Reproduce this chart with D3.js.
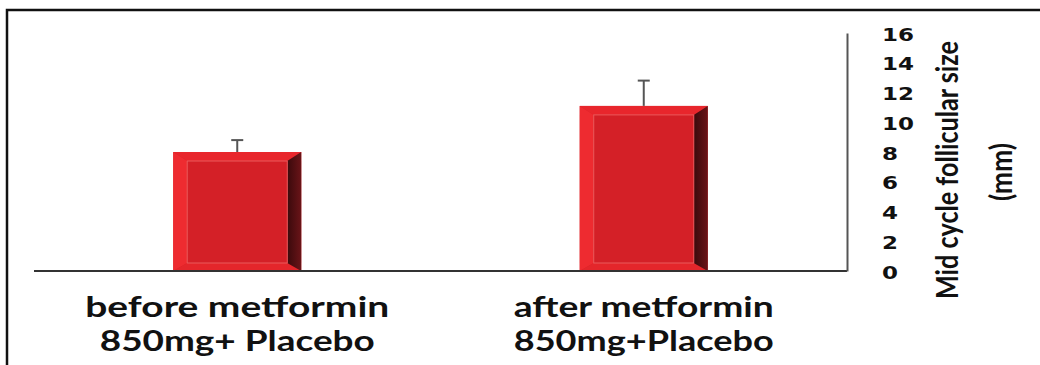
<!DOCTYPE html>
<html><head><meta charset="utf-8">
<script src="https://cdn.jsdelivr.net/npm/d3@7"></script>
<style>body{margin:0;background:#fff}svg{display:block}</style>
</head><body>
<script>
const categories = [["before metformin","850mg+ Placebo"],["after metformin","850mg+Placebo"]];
const values = [8.0, 11.1];
const errors = [0.8, 1.7];
const tickValues = [0,2,4,6,8,10,12,14,16];
const yTitle = ["Mid cycle follicular size","(mm)"];

const W=1040,H=365;
const svg=d3.select("body").append("svg").attr("width",W).attr("height",H);
const defs=svg.append("defs");
const g1=defs.append("linearGradient").attr("id","rs").attr("x1",0).attr("x2",1);
g1.append("stop").attr("offset",0).attr("stop-color","#3a0a0c");
g1.append("stop").attr("offset",1).attr("stop-color","#6a1418");

// frame
svg.append("path").attr("d","M7,365 V10 H1040").attr("fill","none").attr("stroke","#111").attr("stroke-width",2.5);

const x=d3.scaleBand().domain(d3.range(values.length)).range([34,847]).paddingInner(0.685).paddingOuter(0.3425);
const y=d3.scaleLinear().domain([0,16]).range([271,33]);

// bars
const bl=14,br=14,bt=9,bb=8;
values.forEach((v,i)=>{
  const X0=x(i),X1=x(i)+x.bandwidth(),Y0=y(v),Y1=y(0);
  const g=svg.append("g");
  g.append("rect").attr("x",X0).attr("y",Y0).attr("width",X1-X0).attr("height",Y1-Y0).attr("fill","#d42027");
  g.append("path").attr("d",`M${X0},${Y0}H${X1}L${X1-br},${Y0+bt}H${X0+bl}Z`).attr("fill","#e8262c");
  g.append("path").attr("d",`M${X0},${Y0}L${X0+bl},${Y0+bt}V${Y1-bb}L${X0},${Y1}Z`).attr("fill","#ee2b30");
  g.append("path").attr("d",`M${X0},${Y1}L${X0+bl},${Y1-bb}H${X1-br}L${X1},${Y1}Z`).attr("fill","#e4262b");
  g.append("path").attr("d",`M${X1},${Y0}L${X1-br},${Y0+bt}V${Y1-bb}L${X1},${Y1}Z`).attr("fill","url(#rs)");
  g.append("rect").attr("x",X0+bl).attr("y",Y0+bt).attr("width",X1-X0-bl-br).attr("height",Y1-Y0-bt-bb)
    .attr("fill","#d42027").attr("stroke","#ea5a5c").attr("stroke-width",1);
  const cx=x(i)+x.bandwidth()/2;
  g.append("line").attr("x1",cx).attr("x2",cx).attr("y1",Y0).attr("y2",y(v+errors[i])).attr("stroke","#555").attr("stroke-width",2);
  g.append("line").attr("x1",cx-6).attr("x2",cx+6).attr("y1",y(v+errors[i])).attr("y2",y(v+errors[i])).attr("stroke","#555").attr("stroke-width",2);
});

// baseline and y axis line
svg.append("line").attr("x1",34).attr("x2",847).attr("y1",y(0)).attr("y2",y(0)).attr("stroke","#333").attr("stroke-width",2);
const ax=svg.append("g").attr("transform","translate(847,0)").call(d3.axisRight(y).tickValues(tickValues).tickSize(0).tickPadding(35));
ax.select(".domain").attr("stroke","#555").attr("stroke-width",2);
ax.selectAll("text").attr("font-family","DejaVu Sans").attr("font-weight","bold").attr("font-size",18).attr("fill","#111");
ax.selectAll(".tick text").each(function(){
  d3.select(this).attr("dy","0.4em").attr("textLength",this.textContent.length*16).attr("lengthAdjust","spacingAndGlyphs");
});

// y title
const tt=svg.append("g").attr("font-family","Lato, sans-serif").attr("font-weight","bold").attr("fill","#111").attr("text-anchor","middle");
tt.append("text").attr("transform","translate(958,170) rotate(-90)").attr("font-size",31).attr("textLength",258).attr("lengthAdjust","spacingAndGlyphs").text(yTitle[0]);
tt.append("text").attr("transform","translate(1012,172) rotate(-90)").attr("font-size",31).attr("textLength",58).attr("lengthAdjust","spacingAndGlyphs").text(yTitle[1]);

// category labels
const lens=[[304,275],[260,260]];
categories.forEach((c,i)=>{
  const cx=x(i)+x.bandwidth()/2;
  c.forEach((s,j)=>{
    svg.append("text").attr("x",cx).attr("y",317+j*34).attr("text-anchor","middle")
      .attr("font-family","Lato, sans-serif").attr("font-weight","bold").attr("font-size",28).attr("fill","#111")
      .attr("textLength",lens[i][j]).attr("lengthAdjust","spacingAndGlyphs").text(s);
  });
});
</script>
</body></html>
